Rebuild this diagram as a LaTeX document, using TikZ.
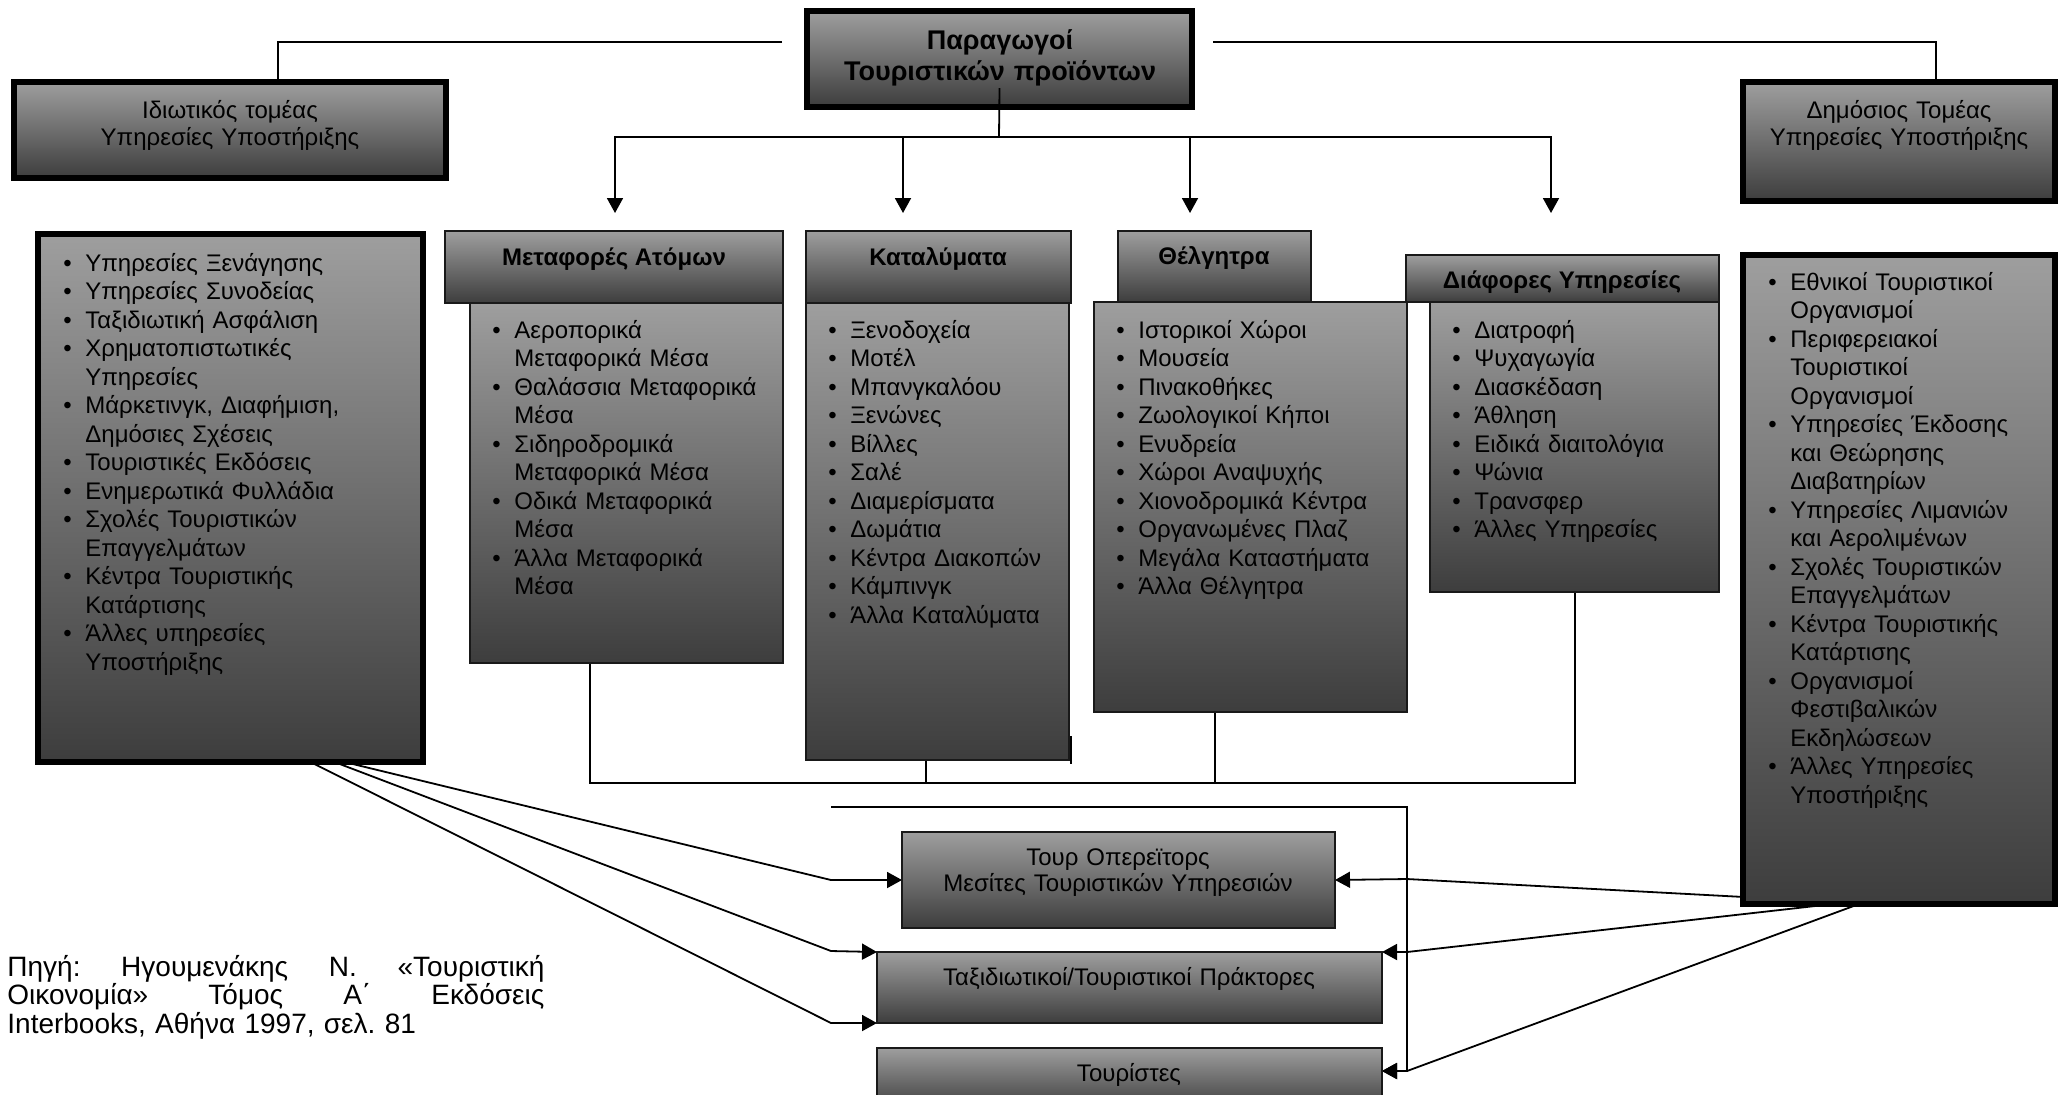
\documentclass[tikz,border=0pt]{standalone}
\usepackage{fontspec}
\setmainfont{Liberation Sans}
\usetikzlibrary{arrows.meta}
\pgfdeclarelayer{bg}
\pgfsetlayers{bg,main}
\newcommand\itm[1]{\hangindent=11pt\hangafter=1\noindent\makebox[11pt][l]{•}{\let\\\newline #1}\par}
\newcommand\mkbox[6]{\node[#1, minimum width={(#5-#3)*0.5pt}, minimum height={(#6-#4)*0.5pt}] (#2) at ({(#3+#5)/2},{(#4+#6)/2}) {};}
\tikzset{
 thickbox/.style={draw=black, line width=2.75pt, top color=black!38, bottom color=black!76, inner sep=0pt, outer sep=0pt},
 thinbox/.style={draw=black!90, line width=1pt, top color=black!38, bottom color=black!76, inner sep=0pt, outer sep=0pt},
 conn/.style={draw=black, line width=0.9pt},
 arr/.style={conn, -{Triangle[length=7.5pt,width=8pt]}},
 lst/.style={anchor=base west, inner sep=0pt, text width=200pt, font=\fontsize{12pt}{14.25pt}\selectfont},
 ctr/.style={anchor=base, inner sep=0pt, text width=220pt, align=center, font=\fontsize{12pt}{13.75pt}\selectfont},
 hdr/.style={anchor=base, inner sep=0pt, font=\bfseries\fontsize{12pt}{14pt}\selectfont},
}
\begin{document}
\begin{tikzpicture}[x=0.5pt,y=-0.5pt]
\useasboundingbox (0,0) rectangle (2065,1094);
\clip (0,0) rectangle (2065,1094);

% boxes with thick frames
\mkbox{thickbox}{T}{807}{11}{1192}{107}
\mkbox{thickbox}{L1}{14}{82}{446}{178}
\mkbox{thickbox}{R1}{1743}{82}{2055}{201}
\mkbox{thickbox}{L2}{38}{234}{423}{762}
\mkbox{thickbox}{R2}{1743}{255}{2055}{904}
% category boxes
\mkbox{thinbox}{B1}{470}{303}{783}{663}
\mkbox{thinbox}{H1}{445}{231}{783}{303}
\mkbox{thinbox}{B2}{806}{303}{1069}{760}
\mkbox{thinbox}{H2}{806}{231}{1071}{303}
\mkbox{thinbox}{B3}{1094}{302}{1407}{712}
\mkbox{thinbox}{H3}{1118}{231}{1311}{302}
\mkbox{thinbox}{B4}{1430}{302}{1719}{592}
\mkbox{thinbox}{H4}{1406}{255}{1719}{302}
% bottom boxes
\mkbox{thinbox}{TO}{902}{832}{1335}{928}
\mkbox{thinbox}{TA}{877}{952}{1382}{1023}
\mkbox{thinbox}{TR}{877}{1048}{1382}{1110}

% texts
\node[ctr, font=\bfseries\fontsize{13.5pt}{15.5pt}\selectfont] (tT) at (1000,49) {Παραγωγοί\\Τουριστικών προϊόντων};
\node[ctr] (tL1) at (230,118) {Ιδιωτικός τομέας\\Υπηρεσίες Υποστήριξης};
\node[ctr] (tR1) at (1899,118) {Δημόσιος Τομέας\\Υπηρεσίες Υποστήριξης};
\node[hdr] (tH1) at (614,265) {Μεταφορές Ατόμων};
\node[hdr] (tH2) at (938,265) {Καταλύματα};
\node[hdr] (tH3) at (1214,264) {Θέλγητρα};
\node[hdr] (tH4) at (1562,288) {Διάφορες Υπηρεσίες};

\node[lst] (tL2) at (63,271) {%
\itm{Υπηρεσίες Ξενάγησης}
\itm{Υπηρεσίες Συνοδείας}
\itm{Ταξιδιωτική Ασφάλιση}
\itm{Χρηματοπιστωτικές\\Υπηρεσίες}
\itm{Μάρκετινγκ, Διαφήμιση,\\Δημόσιες Σχέσεις}
\itm{Τουριστικές Εκδόσεις}
\itm{Ενημερωτικά Φυλλάδια}
\itm{Σχολές Τουριστικών\\Επαγγελμάτων}
\itm{Κέντρα Τουριστικής\\Κατάρτισης}
\itm{Άλλες υπηρεσίες\\Υποστήριξης}};

\node[lst] (tB1) at (492,338) {%
\itm{Αεροπορικά\\Μεταφορικά Μέσα}
\itm{Θαλάσσια Μεταφορικά\\Μέσα}
\itm{Σιδηροδρομικά\\Μεταφορικά Μέσα}
\itm{Οδικά Μεταφορικά\\Μέσα}
\itm{Άλλα Μεταφορικά\\Μέσα}};

\node[lst] (tB2) at (828,338) {%
\itm{Ξενοδοχεία}
\itm{Μοτέλ}
\itm{Μπανγκαλόου}
\itm{Ξενώνες}
\itm{Βίλλες}
\itm{Σαλέ}
\itm{Διαμερίσματα}
\itm{Δωμάτια}
\itm{Κέντρα Διακοπών}
\itm{Κάμπινγκ}
\itm{Άλλα Καταλύματα}};

\node[lst] (tB3) at (1116,338) {%
\itm{Ιστορικοί Χώροι}
\itm{Μουσεία}
\itm{Πινακοθήκες}
\itm{Ζωολογικοί Κήποι}
\itm{Ενυδρεία}
\itm{Χώροι Αναψυχής}
\itm{Χιονοδρομικά Κέντρα}
\itm{Οργανωμένες Πλαζ}
\itm{Μεγάλα Καταστήματα}
\itm{Άλλα Θέλγητρα}};

\node[lst] (tB4) at (1452,338) {%
\itm{Διατροφή}
\itm{Ψυχαγωγία}
\itm{Διασκέδαση}
\itm{Άθληση}
\itm{Ειδικά διαιτολόγια}
\itm{Ψώνια}
\itm{Τρανσφερ}
\itm{Άλλες Υπηρεσίες}};

\node[lst] (tR2) at (1768,290) {%
\itm{Εθνικοί Τουριστικοί\\Οργανισμοί}
\itm{Περιφερειακοί\\Τουριστικοί\\Οργανισμοί}
\itm{Υπηρεσίες Έκδοσης\\και Θεώρησης\\Διαβατηρίων}
\itm{Υπηρεσίες Λιμανιών\\και Αερολιμένων}
\itm{Σχολές Τουριστικών\\Επαγγελμάτων}
\itm{Κέντρα Τουριστικής\\Κατάρτισης}
\itm{Οργανισμοί\\Φεστιβαλικών\\Εκδηλώσεων}
\itm{Άλλες Υπηρεσίες\\Υποστήριξης}};

\node[ctr, font=\fontsize{12pt}{13pt}\selectfont] (tTO) at (1118,865) {Τουρ Οπερεϊτορς\\Μεσίτες Τουριστικών Υπηρεσιών};
\node[ctr] (tTA) at (1129,985) {Ταξιδιωτικοί/Τουριστικοί Πράκτορες};
\node[ctr] (tTR) at (1129,1081) {Τουρίστες};

\node[anchor=base west, inner sep=0pt, text width=270pt, font=\fontsize{14pt}{14.25pt}\selectfont] (src) at (7,976)
 {\makebox[268.5pt][l]{Πηγή:\hfill Ηγουμενάκης\hfill Ν.\hfill «Τουριστική}\\
  \makebox[268.5pt][l]{Οικονομία»\hfill Τόμος\hfill Α΄\hfill Εκδόσεις}\\
  Interbooks, Αθήνα 1997, σελ.\ 81};

% connector points
\coordinate (tl) at (782,42);
\coordinate (tr) at (1213,42);
\coordinate (hub) at (999,137);
\coordinate (a1) at (615,213);
\coordinate (a2) at (903,213);
\coordinate (a3) at (1190,213);
\coordinate (a4) at (1551,213);
\coordinate (j1) at (590,783);
\coordinate (j2) at (926,783);
\coordinate (j3) at (1215,783);
\coordinate (j4) at (1575,783);
\coordinate (k0) at (831,807);
\coordinate (m1) at (831,880);
\coordinate (m2) at (831,951);
\coordinate (m3) at (831,1023);
\coordinate (n1) at (1407,879);
\coordinate (n2) at (1407,952);
\coordinate (n3) at (1407,1071);

\draw[conn] ([yshift=9.5pt]T.south) -- (hub);

\begin{pgfonlayer}{bg}
\draw[conn] (tl) -| ([xshift=24pt]L1.north);
\draw[conn] (tr) -| ([xshift=18.5pt]R1.north);
\draw[arr] (hub) -| (a1);
\draw[arr] (hub) -| (a2);
\draw[arr] (hub) -| (a3);
\draw[arr] (hub) -| (a4);
\draw[conn] (B1.south -| j1) -- (j1) -- (j4) -- (B4.south -| j4);
\draw[conn] (B2.south -| j2) -- (j2);
\draw[conn] (B3.south -| j3) -- (j3);
\draw[conn] ([xshift=1pt,yshift=12pt]B2.south east) -- ([xshift=1pt,yshift=-2pt]B2.south east);
\draw[arr] (k0) -| (n3) -- (TR.east |- n3);
\draw[arr] ([xshift=57pt]L2.south) -- (m1) -- (TO.west);
\draw[arr] ([xshift=52pt]L2.south) -- (m2) -- (TA.north west);
\draw[arr] ([xshift=40pt]L2.south) -- (m3) -- (TA.south west);
\draw[arr] ([shift={(10pt,3pt)}]R2.south west) -- (n1) -- (TO.east);
\draw[arr] ([xshift=45pt]R2.south west) -- (n2) -- (TA.north east);
\draw[arr] ([xshift=58pt]R2.south west) -- (n3) -- (TR.east |- n3);
\end{pgfonlayer}
\end{tikzpicture}
\end{document}
